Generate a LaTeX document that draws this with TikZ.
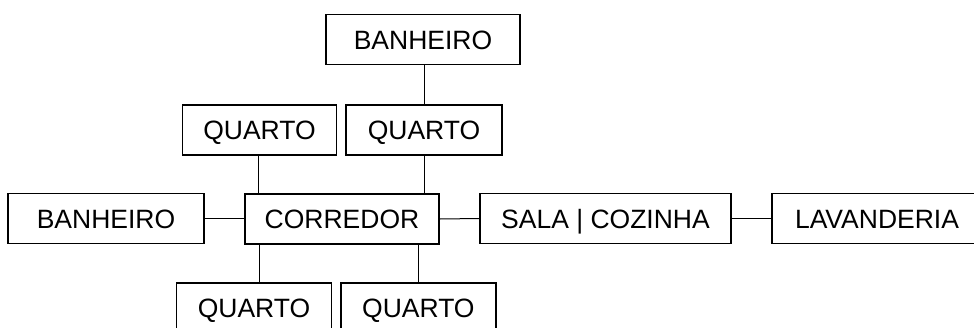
\documentclass[tikz,border=0pt]{standalone}
\usepackage{fontspec}
\setmainfont{Liberation Sans}
\usetikzlibrary{positioning}
\tikzset{
  room/.style={draw,line width=1.6pt,minimum height=50pt,inner sep=0pt,
    text height=19pt,text depth=0pt,font=\fontsize{26.5}{30}\selectfont},
  link/.style={line width=1pt}
}
\begin{document}
\begin{tikzpicture}[x=1pt,y=-1pt]
  \useasboundingbox (0,0) rectangle (974,327);
  % upper row
  \node[room,minimum width=194pt] (banhTop) at (423,39.5) {BANHEIRO};
  \node[room,minimum width=154pt] (quartoUL) at (259.5,130) {QUARTO};
  \node[room,minimum width=156pt] (quartoUR) at (424,130) {QUARTO};
  % main row
  \node[room,minimum width=196pt] (banhLeft) at (106,218.5) {BANHEIRO};
  \node[room,minimum width=194pt] (corredor) at (342,219) {CORREDOR};
  \node[room,minimum width=251pt] (sala) at (605.5,218.5) {SALA | COZINHA};
  \node[room,minimum width=210pt] (lavand) at (877,218.5) {LAVANDERIA};
  % lower row
  \node[room,minimum width=155pt] (quartoBL) at (254,307.7) {QUARTO};
  \node[room,minimum width=155pt] (quartoBR) at (418.4,307.7) {QUARTO};
  % connectors
  \coordinate (cUL) at ([xshift=-1pt]quartoUL.south);
  \coordinate (cBL) at ([xshift=5pt]quartoBL.north);
  \draw[link] (quartoUR.north |- banhTop.south) -- (quartoUR.north);
  \draw[link] (cUL) -- (cUL |- corredor.north);
  \draw[link] (quartoUR.south) -- (quartoUR.south |- corredor.north);
  \draw[link] (cBL |- corredor.south) -- (cBL);
  \draw[link] (quartoBR.north |- corredor.south) -- (quartoBR.north);
  \draw[link] (banhLeft.east) -- (banhLeft.east -| corredor.west);
  \draw[link] (corredor.east) -- (sala.west);
  \draw[link] (sala.east) -- (sala.east -| lavand.west);
\end{tikzpicture}
\end{document}
